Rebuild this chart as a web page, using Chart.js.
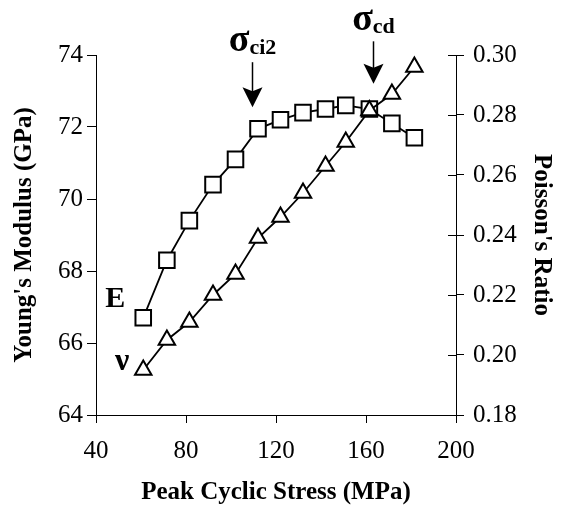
<!DOCTYPE html>
<html>
<head>
<meta charset="utf-8">
<script src="https://cdn.jsdelivr.net/npm/chart.js@4/dist/chart.umd.min.js"></script>
<style>
  html, body { margin: 0; padding: 0; background: #fff; }
</style>
</head>
<body>
<canvas id="modulusChart" width="564" height="511"></canvas>
<script>
// Peak cyclic stress (MPa) for each loading cycle
const peakStress = [61, 71.5, 81.5, 92, 102, 112, 122, 132, 142, 151, 161.5, 171.5, 181.5];
// Young's modulus (GPa) measured at each cycle
const youngsModulus = [66.7, 68.3, 69.4, 70.4, 71.1, 71.95, 72.2, 72.4, 72.5, 72.6, 72.5, 72.1, 71.7];
// Poisson's ratio measured at each cycle
const poissonsRatio = [0.195, 0.205, 0.211, 0.220, 0.227, 0.239, 0.246, 0.254, 0.263, 0.271, 0.2815, 0.287, 0.296];

// stress thresholds marked with arrows (MPa), arrow ends given in GPa
const thresholdNames = ["ci2", "cd"];
const thresholdStress = [109.5, 163];
const arrowTip = [72.55, 73.2];
const arrowTail = [73.8, 74.38];

const SERIF = "'Liberation Serif', 'Times New Roman', serif";

const thresholdPlugin = {
  id: "thresholdMarks",
  afterDraw(chart) {
    const { ctx, scales } = chart;
    const { x, y, y1 } = scales;
    ctx.save();

    // right axis ticks cross the axis line
    ctx.strokeStyle = "#000";
    ctx.lineWidth = 1;
    y1.ticks.forEach(t => {
      const py = Math.round(y1.getPixelForValue(t.value)) + 0.5;
      ctx.beginPath();
      ctx.moveTo(y1.left - 8, py);
      ctx.lineTo(y1.left, py);
      ctx.stroke();
    });

    // arrows with sigma labels
    ctx.fillStyle = "#000";
    thresholdStress.forEach((s, i) => {
      const px = Math.round(x.getPixelForValue(s)) + 0.5;
      const tail = y.getPixelForValue(arrowTail[i]);
      const tip = y.getPixelForValue(arrowTip[i]);

      ctx.lineWidth = 1.5;
      ctx.beginPath();
      ctx.moveTo(px, tail);
      ctx.lineTo(px, tip - 12);
      ctx.stroke();

      ctx.beginPath();
      ctx.moveTo(px, tip);
      ctx.lineTo(px - 10, tip - 20);
      ctx.lineTo(px, tip - 16);
      ctx.lineTo(px + 10, tip - 20);
      ctx.closePath();
      ctx.fill();

      ctx.font = "bold 38px " + SERIF;
      const sigW = ctx.measureText("σ").width;
      ctx.font = "bold 22px " + SERIF;
      const subW = ctx.measureText(thresholdNames[i]).width;
      const startX = px - (sigW + subW) / 2;
      const base = tail - 11;

      ctx.textBaseline = "alphabetic";
      ctx.textAlign = "left";
      ctx.font = "bold 38px " + SERIF;
      ctx.fillText("σ", startX, base);
      ctx.font = "bold 22px " + SERIF;
      ctx.fillText(thresholdNames[i], startX + sigW, base + 3);
    });

    // series labels beside the first points
    ctx.textAlign = "center";
    ctx.textBaseline = "middle";
    const ex = x.getPixelForValue(peakStress[0]);
    ctx.font = "bold 30px " + SERIF;
    ctx.fillText("E", ex - 28, y.getPixelForValue(youngsModulus[0]) - 19);
    ctx.font = "bold 32px " + SERIF;
    ctx.fillText("ν", ex - 21, y1.getPixelForValue(poissonsRatio[0]) - 8);

    ctx.restore();
  }
};

const tickFont = { family: SERIF, size: 25 };
const titleFont = { family: SERIF, size: 25, weight: "bold" };

new Chart(document.getElementById("modulusChart"), {
  type: "line",
  data: {
    datasets: [
      {
        label: "E",
        data: peakStress.map((s, i) => ({ x: s, y: youngsModulus[i] })),
        yAxisID: "y",
        borderColor: "#000",
        borderWidth: 1.8,
        pointStyle: "rect",
        pointRadius: 11,
        pointBorderWidth: 2,
        pointBackgroundColor: "#fff",
        pointBorderColor: "#000",
        tension: 0,
        clip: false,
        order: 2
      },
      {
        label: "ν",
        data: peakStress.map((s, i) => ({ x: s, y: poissonsRatio[i] })),
        yAxisID: "y1",
        borderColor: "#000",
        borderWidth: 1.8,
        pointStyle: "triangle",
        pointRadius: 9.5,
        pointBorderWidth: 2,
        pointBackgroundColor: "#fff",
        pointBorderColor: "#000",
        tension: 0,
        clip: false,
        order: 1
      }
    ]
  },
  options: {
    responsive: false,
    devicePixelRatio: 1,
    animation: false,
    layout: { padding: { top: 55, left: 0, right: 0, bottom: 0 } },
    plugins: { legend: { display: false }, tooltip: { enabled: false } },
    scales: {
      x: {
        type: "linear",
        min: 40,
        max: 200,
        afterFit: s => { s.height = 96; },
        afterBuildTicks: s => { s.ticks = [40, 80, 120, 160, 200].map(v => ({ value: v })); },
        grid: { drawOnChartArea: false, tickLength: 8, color: "#000" },
        border: { color: "#000", width: 1 },
        ticks: { color: "#000", font: tickFont, padding: 13, maxRotation: 0 },
        title: { display: true, text: "Peak Cyclic Stress (MPa)", color: "#000", font: titleFont, padding: { top: 0, bottom: 3 } }
      },
      y: {
        position: "left",
        min: 64,
        max: 74,
        afterFit: s => { s.width = 96; },
        ticks: { stepSize: 2, color: "#000", font: tickFont, padding: 4 },
        grid: { drawOnChartArea: false, tickLength: 9, color: "#000" },
        border: { color: "#000", width: 1 },
        title: { display: true, text: "Young's Modulus (GPa)", color: "#000", font: titleFont, padding: { top: 10, bottom: 0 } }
      },
      y1: {
        position: "right",
        min: 0.18,
        max: 0.30,
        afterFit: s => { s.width = 108; },
        ticks: { stepSize: 0.02, color: "#000", font: tickFont, padding: 9, callback: v => v.toFixed(2) },
        grid: { drawOnChartArea: false, tickLength: 8, color: "#000" },
        border: { color: "#000", width: 1 },
        title: { display: true, text: "Poisson's Ratio", color: "#000", font: titleFont, padding: { top: 8, bottom: 0 } }
      }
    }
  },
  plugins: [thresholdPlugin]
});
</script>
</body>
</html>
